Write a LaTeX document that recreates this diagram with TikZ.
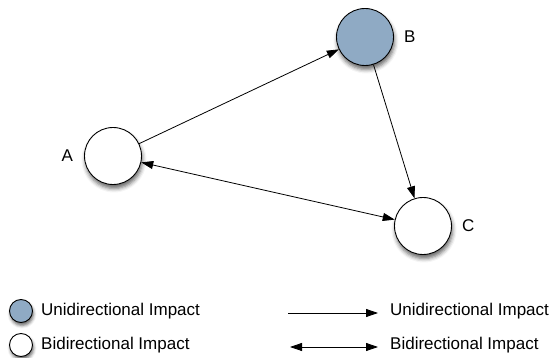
\documentclass[tikz,border=0pt]{standalone}
\usepackage{fontspec}
\setmainfont{Liberation Sans}
\usetikzlibrary{arrows.meta,positioning,shadows.blur}

\definecolor{impactblue}{RGB}{143,170,196}

\begin{document}
\begin{tikzpicture}[
    x=1pt, y=-1pt,
    every node/.style={font=\fontsize{17}{20}\selectfont},
    factor/.style={circle, draw, line width=0.9pt, fill=white, minimum size=57pt,
                   blur shadow={shadow xshift=1pt, shadow yshift=-4pt,
                                shadow blur radius=4pt, shadow opacity=60}},
    keydot/.style={circle, draw, line width=0.9pt, fill=white, minimum size=23pt,
                   blur shadow={shadow xshift=1pt, shadow yshift=-3pt,
                                shadow blur radius=3pt, shadow opacity=60}},
    keytext/.style={anchor=west, inner sep=0pt},
    impact/.style={-{Triangle[length=12pt,width=8pt]}, line width=0.8pt},
    mutual/.style={{Triangle[length=12pt,width=8pt]}-{Triangle[length=12pt,width=8pt]}, line width=0.8pt}
]
\useasboundingbox (0,0) rectangle (550,358);

% factors
\node[factor] (A) at (113,156) {};
\node[factor, fill=impactblue] (B) at (365,37) {};
\node[factor] (C) at (423,226) {};
\node[left=11pt of A, inner sep=0pt] (Alab) {A};
\node[right=10pt of B, inner sep=0pt] (Blab) {B};
\node[right=10pt of C, inner sep=0pt] (Clab) {C};

\draw[impact] (A) -- (B);
\draw[impact] (B) -- (C);
\draw[mutual] (A) -- (C);

% legend
\node[keydot, fill=impactblue] (keyuni) at (21,311) {};
\node[keydot] (keybi) at (21,345) {};
\node[keytext] (keyunitext) at (41,311) {Unidirectional Impact};
\node[keytext] (keybitext) at (41,345) {Bidirectional Impact};

\coordinate (uniL) at (288,313);
\coordinate (uniR) at (378,313);
\coordinate (biL) at (290,347);
\coordinate (biR) at (378,347);
\draw[impact] (uniL) -- (uniR);
\draw[mutual] (biL) -- (biR);
\node[keytext] (arrunitext) at (390,311) {Unidirectional Impact};
\node[keytext] (arrbitext) at (390,345) {Bidirectional Impact};
\end{tikzpicture}
\end{document}
